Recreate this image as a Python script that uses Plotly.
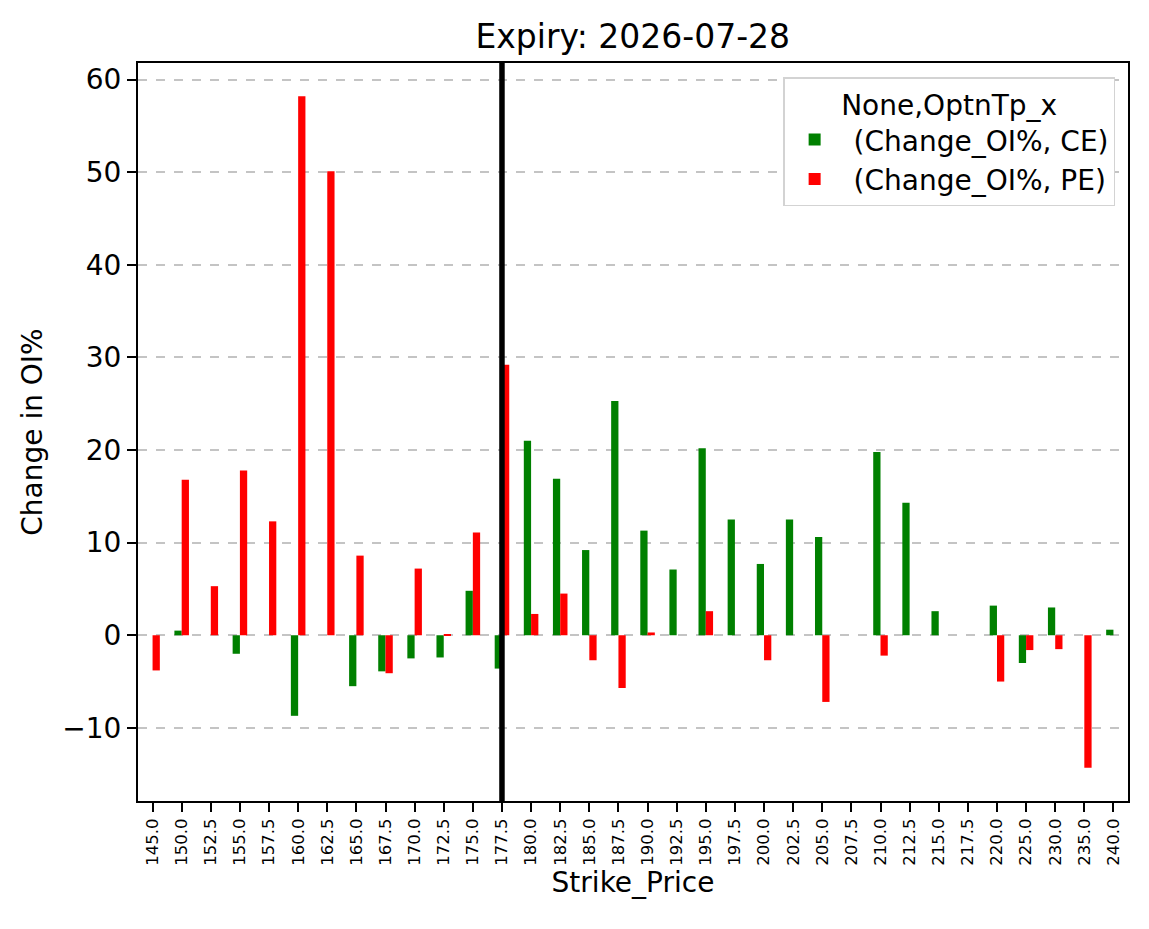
import plotly.graph_objects as go

strikes = ["145.0", "150.0", "152.5", "155.0", "157.5", "160.0", "162.5", "165.0",
           "167.5", "170.0", "172.5", "175.0", "177.5", "180.0", "182.5", "185.0",
           "187.5", "190.0", "192.5", "195.0", "197.5", "200.0", "202.5", "205.0",
           "207.5", "210.0", "212.5", "215.0", "217.5", "220.0", "225.0", "230.0",
           "235.0", "240.0"]

ce_change = [0, 0.5, 0, -2.0, 0, -8.7, 0, -5.5, -3.9, -2.5, -2.4, 4.8, -3.6, 21.0,
             16.9, 9.2, 25.3, 11.3, 7.1, 20.2, 12.5, 7.7, 12.5, 10.6, 0, 19.8, 14.3,
             2.6, 0, 3.2, -3.0, 3.0, 0, 0.6]

pe_change = [-3.8, 16.8, 5.3, 17.8, 12.3, 58.2, 50.1, 8.6, -4.1, 7.2, 0.1, 11.1, 29.2,
             2.3, 4.5, -2.7, -5.7, 0.3, 0, 2.6, 0, -2.7, 0, -7.2, 0, -2.2, 0, 0, 0,
             -5.0, -1.6, -1.5, -14.3, 0]

atm_strike = "177.5"
y_ticks = [-10, 0, 10, 20, 30, 40, 50, 60]

FONT = "DejaVu Sans"
FS = 28

fig = go.Figure()
fig.add_trace(go.Bar(x=strikes, y=ce_change, name=" (Change_OI%, CE)",
                     marker=dict(color="#008000", line=dict(width=0))))
fig.add_trace(go.Bar(x=strikes, y=pe_change, name=" (Change_OI%, PE)",
                     marker=dict(color="#ff0000", line=dict(width=0))))

atm_index = strikes.index(atm_strike)
fig.add_shape(type="line", xref="x", yref="paper", x0=atm_index, x1=atm_index,
              y0=0, y1=1, line=dict(color="black", width=5.5), layer="above")

fig.update_layout(
    width=1149, height=929,
    margin=dict(l=137.5, r=21, t=63, b=128),
    paper_bgcolor="white", plot_bgcolor="white",
    font=dict(family=FONT, color="black", size=FS),
    barmode="group", bargap=0.5, bargroupgap=0,
    title=dict(text="Expiry: 2026-07-28", x=(137.5 + 1128) / 2 / 1149, xanchor="center",
               y=1 - 36 / 929, yanchor="middle", yref="container",
               font=dict(size=33, family=FONT)),
    legend=dict(
        x=0.987, xanchor="right", y=0.981, yanchor="top",
        bgcolor="white", bordercolor="#d3d3d3", borderwidth=1.5,
        title=dict(text="None,OptnTp_x", side="top center", font=dict(size=FS)),
        font=dict(size=FS, family=FONT),
        itemwidth=50,
    ),
    showlegend=True,
)

fig.update_xaxes(
    type="category", range=[-0.5, len(strikes) - 0.5],
    showline=True, mirror=True, linecolor="black", linewidth=2,
    ticks="outside", ticklen=9, tickwidth=2, tickcolor="black",
    tickangle=-90, tickfont=dict(size=16.5, family=FONT),
    showgrid=False, zeroline=False,
    title=dict(text="Strike_Price", font=dict(size=FS, family=FONT), standoff=6),
    layer="above traces",
)
fig.update_yaxes(
    range=[-17.9, 61.8], tickvals=y_ticks,
    ticktext=[("\u2212" + str(abs(v))) if v < 0 else str(v) for v in y_ticks],
    showline=True, mirror=True, linecolor="black", linewidth=2,
    ticks="outside", ticklen=9, tickwidth=2, tickcolor="black",
    tickfont=dict(size=FS, family=FONT),
    showgrid=True, gridcolor="#c4c4c4", gridwidth=1.8, griddash="dash",
    zeroline=False,
    title=dict(text="Change in OI%", font=dict(size=FS, family=FONT), standoff=12),
    layer="above traces",
)

fig.write_html("out.html")
